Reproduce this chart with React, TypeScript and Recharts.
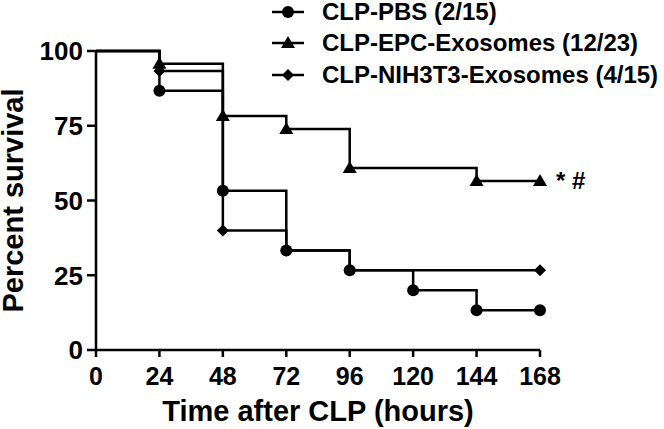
import { Label, Line, LineChart, XAxis, YAxis } from "recharts";

const FONT = "Arial, 'Liberation Sans', sans-serif";

const hourTicks = [0, 24, 48, 72, 96, 120, 144, 168];
const survivalTicks = [0, 25, 50, 75, 100];

// Kaplan-Meier steps: time of each event and the survival after it
const pbsHours = [0, 24, 48, 72, 96, 120, 144, 168];
const pbsSurvival = [100, 86.7, 53.3, 33.3, 26.7, 20, 13.3, 13.3];

const epcHours = [0, 24, 48, 72, 96, 144, 168];
const epcSurvival = [100, 95.7, 78.3, 73.9, 60.9, 56.5, 56.5];

const nihHours = [0, 24, 48, 72, 96, 168];
const nihSurvival = [100, 93.3, 40, 33.3, 26.7, 26.7];

const seriesNames = ["CLP-PBS (2/15)", "CLP-EPC-Exosomes (12/23)", "CLP-NIH3T3-Exosomes (4/15)"];

const toRows = (hours: number[], surv: number[]) => hours.map((t, i) => ({ t, s: surv[i] }));

const pbsData = toRows(pbsHours, pbsSurvival);
const epcData = toRows(epcHours, epcSurvival);
const nihData = toRows(nihHours, nihSurvival);

type Shape = "circle" | "triangle" | "diamond";

function Marker({ shape, cx, cy }: { shape: Shape; cx: number; cy: number }) {
  if (shape === "circle") return <circle cx={cx} cy={cy} r={6} fill="#000" />;
  if (shape === "triangle")
    return <polygon points={`${cx},${cy - 7} ${cx - 7},${cy + 5} ${cx + 7},${cy + 5}`} fill="#000" />;
  return <polygon points={`${cx},${cy - 6} ${cx + 6},${cy} ${cx},${cy + 6} ${cx - 6},${cy}`} fill="#000" />;
}

const dotFor = (shape: Shape) => (props: any) => {
  const { cx, cy, index } = props;
  if (index === 0) return <g key={`d-${shape}-${index}`} />;
  return (
    <g key={`d-${shape}-${index}`}>
      <Marker shape={shape} cx={cx} cy={cy} />
    </g>
  );
};

const sigLabel = (props: any) => {
  const { x, y, index } = props;
  if (index !== epcSurvival.length - 1) return null;
  return (
    <text x={x + 16} y={y} dy="0.35em" fontSize={24} fontWeight="bold" fontFamily={FONT} fill="#000">
      * #
    </text>
  );
};

const XTick = (props: any) => {
  const { x, y, payload } = props;
  return (
    <text x={x} y={y} dy="0.72em" textAnchor="middle" fontSize={25} fontWeight="bold" fontFamily={FONT} fill="#000">
      {payload.value}
    </text>
  );
};

const YTick = (props: any) => {
  const { x, y, payload } = props;
  return (
    <text x={x} y={y} dy="0.36em" textAnchor="end" fontSize={26} fontWeight="bold" fontFamily={FONT} fill="#000">
      {payload.value}
    </text>
  );
};

const shapes: Shape[] = ["circle", "triangle", "diamond"];
const legendRowsY = [12, 43, 75];

export default function App() {
  return (
    <div style={{ position: "absolute", left: 0, top: 0, width: 664, height: 429, background: "#fff" }}>
      <LineChart width={664} height={429} margin={{ top: 51, right: 124, left: 0, bottom: 0 }}>
        <XAxis
          type="number"
          dataKey="t"
          domain={[0, 168]}
          ticks={hourTicks}
          tick={<XTick />}
          tickSize={7}
          tickMargin={10}
          height={79}
          axisLine={{ stroke: "#000", strokeWidth: 2.5 }}
          tickLine={{ stroke: "#000", strokeWidth: 2.5 }}
        >
          <Label
            value="Time after CLP (hours)"
            position="insideBottom"
            offset={8}
            style={{ fill: "#000", fontSize: 29, fontWeight: "bold", fontFamily: FONT }}
          />
        </XAxis>
        <YAxis
          type="number"
          dataKey="s"
          domain={[0, 100]}
          ticks={survivalTicks}
          tick={<YTick />}
          tickSize={9}
          tickMargin={4}
          width={96}
          axisLine={{ stroke: "#000", strokeWidth: 2.5 }}
          tickLine={{ stroke: "#000", strokeWidth: 2.5 }}
        >
          <Label
            value="Percent survival"
            angle={-90}
            position="insideLeft"
            offset={13}
            style={{ fill: "#000", fontSize: 29, fontWeight: "bold", fontFamily: FONT, textAnchor: "middle" }}
          />
        </YAxis>
        <Line
          data={nihData}
          dataKey="s"
          type="stepAfter"
          stroke="#000"
          strokeWidth={2.5}
          dot={dotFor("diamond")}
          activeDot={false}
          isAnimationActive={false}
        />
        <Line
          data={pbsData}
          dataKey="s"
          type="stepAfter"
          stroke="#000"
          strokeWidth={2.5}
          dot={dotFor("circle")}
          activeDot={false}
          isAnimationActive={false}
        />
        <Line
          data={epcData}
          dataKey="s"
          type="stepAfter"
          stroke="#000"
          strokeWidth={2.5}
          dot={dotFor("triangle")}
          activeDot={false}
          label={sigLabel}
          isAnimationActive={false}
        />
      </LineChart>
      <div style={{ position: "absolute", left: 272, top: 0, width: 392, height: 92, fontFamily: FONT }}>
        {seriesNames.map((name, i) => (
          <div
            key={name}
            style={{
              position: "absolute",
              left: 0,
              top: legendRowsY[i] - 12,
              height: 24,
              display: "flex",
              alignItems: "center",
              whiteSpace: "nowrap",
              lineHeight: "24px",
            }}
          >
            <svg width={32} height={24}>
              <line x1={0} y1={12} x2={32} y2={12} stroke="#000" strokeWidth={2.5} />
              <Marker shape={shapes[i]} cx={16} cy={12} />
            </svg>
            <span style={{ marginLeft: 18, fontSize: 24, fontWeight: "bold", color: "#000" }}>{name}</span>
          </div>
        ))}
      </div>
    </div>
  );
}
